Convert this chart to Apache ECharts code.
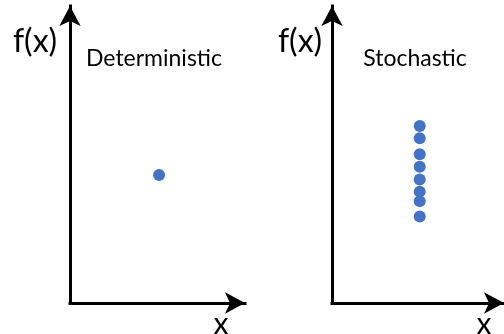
<!DOCTYPE html>
<html>
<head>
<meta charset="utf-8">
<script src="https://cdn.jsdelivr.net/npm/echarts@6/dist/echarts.min.js"></script>
<style>
  html, body { margin: 0; padding: 0; background: #fff; }
  #chart { width: 504px; height: 334px; }
</style>
</head>
<body>
<div id="chart"></div>
<script>
// Panel captions
const panelTitles = ['Deterministic', 'Stochastic'];
const yAxisName = 'f(x)';
const xAxisName = 'x';

// Deterministic: one evaluation of f at x
const detX = [5.09];
const detY = [4.31];

// Stochastic: repeated evaluations at the same x scatter vertically
const stoX = [5.1, 5.1, 5.1, 5.1, 5.1, 5.1, 5.1, 5.1];
const stoY = [5.96, 5.55, 5.01, 4.59, 4.16, 3.75, 3.43, 2.91];

const FONT = 'Lato';
const DOT = '#4472C4';

const chart = echarts.init(document.getElementById('chart'), null, { renderer: 'canvas' });

// Bare arrowed axis, no ticks or labels
const arrowAxis = (gridIndex) => ({
  type: 'value',
  gridIndex: gridIndex,
  min: 0,
  max: 10,
  splitLine: { show: false },
  axisTick: { show: false },
  axisLabel: { show: false },
  axisLine: {
    show: true,
    onZero: false,
    symbol: ['none', 'arrow'],
    symbolSize: [16, 20],
    lineStyle: { color: '#000', width: 3, cap: 'square' }
  }
});

const label = (text, x, y, size) => ({
  type: 'text',
  x: x,
  y: y,
  style: {
    text: text,
    fill: '#000',
    font: `${size}px ${FONT}`,
    align: 'center',
    verticalAlign: 'middle'
  }
});

const option = {
  animation: false,
  backgroundColor: '#fff',
  grid: [
    { left: 70, top: 6, width: 175, bottom: 31 },
    { left: 332, top: 6, width: 177, bottom: 31 }
  ],
  xAxis: [arrowAxis(0), arrowAxis(1)],
  yAxis: [arrowAxis(0), arrowAxis(1)],
  series: [
    {
      type: 'scatter',
      xAxisIndex: 0,
      yAxisIndex: 0,
      symbolSize: 12,
      itemStyle: { color: DOT, opacity: 1 },
      data: detX.map((x, i) => [x, detY[i]])
    },
    {
      type: 'scatter',
      xAxisIndex: 1,
      yAxisIndex: 1,
      symbolSize: 12,
      itemStyle: { color: DOT, opacity: 1 },
      data: stoX.map((x, i) => [x, stoY[i]])
    }
  ],
  graphic: [
    label(yAxisName, 35, 42, 32),
    label(yAxisName, 300, 42, 32),
    label(panelTitles[0], 154, 59, 23),
    label(panelTitles[1], 415, 59, 23),
    label(xAxisName, 221, 324, 30),
    label(xAxisName, 484, 324, 30)
  ]
};

chart.setOption(option);
</script>
</body>
</html>
